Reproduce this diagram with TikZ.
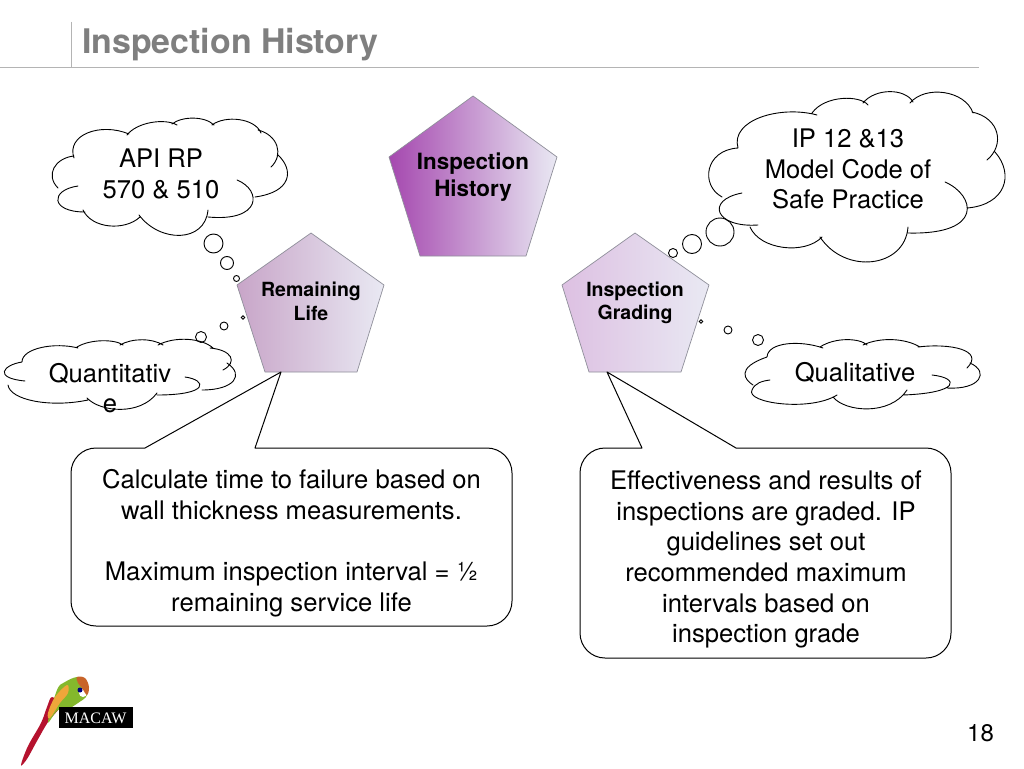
\documentclass[tikz,border=0pt]{standalone}
\usepackage{fontspec}
\setmainfont{TeX Gyre Heros}
\newfontfamily\logofont{Liberation Serif}
\definecolor{rulegray}{HTML}{B4B4B4}
\definecolor{titlegray}{HTML}{7F7F7F}
\definecolor{pentedge}{HTML}{8F8F9A}
\definecolor{pale}{HTML}{E9E9F3}
\definecolor{parrotred}{HTML}{B5122E}
\definecolor{parrotgreen}{HTML}{84B82C}
\definecolor{parrotwing}{HTML}{EFA63A}
\definecolor{parrothead}{HTML}{C8642A}
\tikzset{
  body/.style={font=\fontsize{25.6}{30.7}\selectfont,align=center,inner sep=0pt,text=black},
  pentbig/.style={font=\bfseries\fontsize{22.4}{27}\selectfont,align=center,inner sep=0pt,text=black},
  pentsmall/.style={font=\bfseries\fontsize{19.5}{23.5}\selectfont,align=center,inner sep=0pt,text=black},
  cloudline/.style={draw=black,line width=0.9pt,line cap=round},
  puff/.style={circle,draw=black,line width=0.9pt,inner sep=0pt,fill=none},
  calloutline/.style={draw=black,line width=1pt,fill=white,line join=round},
  pentline/.style={draw=pentedge,line width=0.7pt,line join=round}
}
\begin{document}
\begin{tikzpicture}[x=1pt,y=-1pt]
\useasboundingbox (0,0) rectangle (1024,768);
\fill[white] (0,0) rectangle (1024,768);
% title
\draw[rulegray,line width=1pt] (0,67) -- (979,67);
\draw[rulegray,line width=1pt] (71,22) -- (71,67);
\node[anchor=west,inner sep=0pt,text=titlegray,font=\bfseries\fontsize{33.9}{40}\selectfont] (title) at (82,45) {Inspection History};
% pentagons
\shade[left color={rgb,255:red,165;green,72;blue,175},right color=pale,pentline] (473,96) -- (557,157) -- (526,256) -- (420,256) -- (389,157) -- cycle;
\shade[left color={rgb,255:red,200;green,165;blue,200},right color=pale,pentline] (311,233) -- (384,285) -- (357,372) -- (265,372) -- (237,285) -- cycle;
\shade[left color={rgb,255:red,221;green,192;blue,226},right color=pale,pentline] (635,233) -- (709,285) -- (681,372) -- (589,372) -- (562,285) -- cycle;
\node[pentbig] (hist) at (473,177) {Inspection\\History};
\node[pentsmall] (rem) at (311,301.5) {Remaining\\Life};
\node[pentsmall] (grad) at (635,303) {Inspection\\Grading};
% callouts
\path[calloutline] (281,372) -- (255,448) -- (487,448) arc[start angle=-90,end angle=0,radius=25] -- (512,601) arc[start angle=0,end angle=90,radius=25] -- (96,626) arc[start angle=90,end angle=180,radius=25] -- (71,473) arc[start angle=180,end angle=270,radius=25] -- (145,448) -- cycle;
\path[calloutline] (607,372) -- (642,448) -- (605,448) arc[start angle=-90,end angle=-180,radius=25] -- (580,633) arc[start angle=180,end angle=90,radius=25] -- (926,658) arc[start angle=90,end angle=0,radius=25] -- (951,473) arc[start angle=0,end angle=-90,radius=25] -- (736,448) -- cycle;
\node[body] (lefttext) at (291.5,543) {Calculate time to failure based on\\wall thickness measurements.\\[30.7pt]Maximum inspection interval = ½\\remaining service life};
\node[body] (righttext) at (766,559.5) {Effectiveness and results of\\inspections are graded. IP\\guidelines set out\\recommended maximum\\intervals based on\\inspection grade};
% cloud API
\draw[cloudline]
 (74,158) .. controls (66,135) and (100,122) .. (129,134)
 (127,135) .. controls (137,122) and (165,118) .. (177,125)
 (172,124) .. controls (182,116) and (205,116) .. (214,125)
 (212,125) .. controls (225,115) and (255,118) .. (261,133)
 (258,130) .. controls (278,135) and (284,155) .. (271,167)
 (278,155) .. controls (294,170) and (292,192) .. (255,197)
 (237,180) .. controls (262,190) and (262,222) .. (208,217)
 (208,210) .. controls (205,243) and (160,243) .. (139,215)
 (140,217) .. controls (125,231) and (92,229) .. (83,210)
 (85,212) .. controls (50,212) and (50,190) .. (78,186)
 (58,188) .. controls (45,175) and (55,158) .. (74,156);
% cloud Quantitative
\draw[cloudline]
 (22,362) .. controls (22,348) and (55,342) .. (78,348)
 (77,347) .. controls (90,339) and (115,339) .. (123,345)
 (120,345) .. controls (132,338) and (152,338) .. (163,345)
 (158,345) .. controls (175,336) and (202,338) .. (213,348)
 (210,348) .. controls (232,350) and (238,362) .. (223,370)
 (227,363) .. controls (245,375) and (234,390) .. (202,390)
 (185,377) .. controls (207,380) and (210,395) .. (157,395)
 (157,393) .. controls (140,416) and (100,412) .. (87,398)
 (88,400) .. controls (50,408) and (10,400) .. (8,385)
 (22,362) .. controls (3,365) and (-7,378) .. (25,381);
% cloud IP
\draw[cloudline]
 (738,148) .. controls (730,120) and (780,105) .. (817,115)
 (812,113) .. controls (825,95) and (860,95) .. (868,105)
 (863,103) .. controls (875,88) and (905,88) .. (913,102)
 (910,103) .. controls (925,85) and (965,90) .. (973,113)
 (972,112) .. controls (1000,118) and (1005,145) .. (987,160)
 (995,152) .. controls (1015,175) and (1005,205) .. (967,208)
 (945,182) .. controls (975,195) and (985,235) .. (908,233)
 (908,227) .. controls (905,268) and (845,275) .. (820,237)
 (822,237) .. controls (805,255) and (760,250) .. (750,227)
 (758,225) .. controls (715,228) and (705,200) .. (742,193)
 (722,197) .. controls (700,185) and (705,150) .. (738,148);
% cloud Qualitative
\draw[cloudline]
 (767,357) .. controls (768,342) and (800,340) .. (823,348)
 (820,347) .. controls (835,337) and (860,338) .. (867,345)
 (863,345) .. controls (880,337) and (905,338) .. (920,347)
 (918,347) .. controls (950,343) and (985,350) .. (967,368)
 (970,363) .. controls (990,372) and (980,390) .. (947,388)
 (932,375) .. controls (960,378) and (960,393) .. (903,395)
 (907,390) .. controls (890,416) and (845,412) .. (833,397)
 (837,395) .. controls (810,412) and (745,403) .. (752,390)
 (752,390) .. controls (755,383) and (762,381) .. (770,380)
 (767,357) .. controls (735,368) and (745,380) .. (753,385);
% thought bubbles
\node[puff,minimum size=19pt] (a1) at (213.5,243.5) {};
\node[puff,minimum size=13pt] (a2) at (227,263) {};
\node[puff,minimum size=6pt] (a3) at (236.5,278.5) {};
\node[puff,minimum size=3.6pt] (b3) at (243,317.5) {};
\node[puff,minimum size=8pt] (b2) at (224,326) {};
\node[puff,minimum size=11pt] (b1) at (201,337) {};
\node[puff,minimum size=28pt] (c1) at (720,232) {};
\node[puff,minimum size=19pt] (c2) at (692,244) {};
\node[puff,minimum size=9pt] (c3) at (673,253) {};
\node[puff,minimum size=3.6pt] (d3) at (701,321.5) {};
\node[puff,minimum size=8pt] (d2) at (728,330) {};
\node[puff,minimum size=11pt] (d1) at (758,340) {};
% cloud texts
\node[body] (t1) at (161,174) {API RP\\570 \& 510};
\node[body] (t2) at (110,388) {Quantitativ\\e};
\node[body] (t3) at (848,169) {IP 12 \&13\\Model Code of\\Safe Practice};
\node[body] (t4) at (855,372.5) {Qualitative};
% logo
\fill[parrotred] plot[smooth cycle,tension=0.6] coordinates {(21,765) (28,746) (41,723) (47,707) (52,697) (60,706) (48,722) (37,741) (27,759)};
\fill[parrotgreen] plot[smooth cycle,tension=0.6] coordinates {(57,690) (65,682) (77,677) (85,680) (87,695) (78,703) (72,707) (58,710) (48,722)};
\fill[parrotwing] plot[smooth cycle,tension=0.6] coordinates {(67,685) (68,693) (60,703) (50,718) (48,713) (55,697)};
\fill[white] (83,693) circle[radius=4pt];
\fill[parrothead] plot[smooth cycle,tension=0.6] coordinates {(77,677) (85,678) (89,687) (87,695) (82,688) (78,683)};
\fill[blue!50!black] (80,690) circle[radius=2.5pt];
\fill[black] (59,707) rectangle (132.5,728);
\node[text=white,inner sep=0pt,font=\logofont\fontsize{16}{17}\selectfont] (logo) at (95.5,718) {MACAW};
\node[inner sep=0pt,font=\fontsize{24}{28}\selectfont] (page) at (980.5,733) {18};
\end{tikzpicture}
\end{document}
